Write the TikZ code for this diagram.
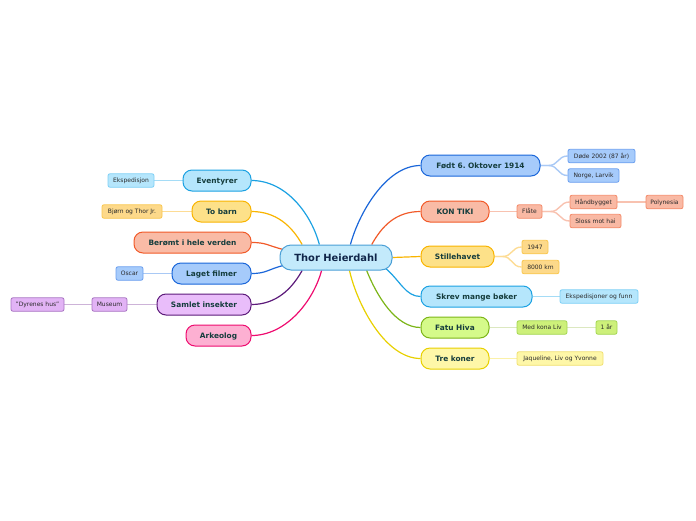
\documentclass[tikz,border=0pt]{standalone}
\usepackage{fontspec}
\setmainfont{DejaVu Sans}
\usetikzlibrary{backgrounds}
\frenchspacing
\definecolor{maintext}{HTML}{153D3D}
\definecolor{ctext}{HTML}{10264A}
\definecolor{subtext}{HTML}{2A2A2A}
% central
\definecolor{cF}{HTML}{C3EAFB}\definecolor{cD}{HTML}{4A9FD6}
% cyan
\definecolor{cyF}{HTML}{B5E6FC}\definecolor{cyD}{HTML}{1BA1E2}\definecolor{cyS}{HTML}{A5DCF6}\definecolor{cySD}{HTML}{7FD0F5}
% yellow-orange
\definecolor{yeF}{HTML}{FDE189}\definecolor{yeD}{HTML}{F9B400}\definecolor{yeS}{HTML}{FDDC95}\definecolor{yeSF}{HTML}{FDD98A}\definecolor{yeSD}{HTML}{F9C74F}
% red
\definecolor{reF}{HTML}{F9BBA6}\definecolor{reD}{HTML}{F15A29}\definecolor{reS}{HTML}{F8C2B0}\definecolor{reSF}{HTML}{F9B9A4}\definecolor{reSD}{HTML}{F48B6A}
% blue
\definecolor{blF}{HTML}{A6CBFB}\definecolor{blD}{HTML}{1A66D9}\definecolor{blS}{HTML}{A9C9F5}\definecolor{blSD}{HTML}{6B9FEF}
% purple
\definecolor{puF}{HTML}{E9BDFA}\definecolor{puD}{HTML}{5C1A7A}\definecolor{puS}{HTML}{CDB3D8}\definecolor{puSF}{HTML}{E2B3F5}\definecolor{puSD}{HTML}{A874C2}
% pink
\definecolor{piF}{HTML}{FDB0D2}\definecolor{piD}{HTML}{EE0B6F}
% green
\definecolor{grF}{HTML}{D5FA8A}\definecolor{grD}{HTML}{7CB518}\definecolor{grS}{HTML}{DCE8C0}\definecolor{grSF}{HTML}{CDF07A}\definecolor{grSD}{HTML}{A4D653}
% light yellow
\definecolor{lyF}{HTML}{FEF7A8}\definecolor{lyD}{HTML}{E8D000}\definecolor{lyS}{HTML}{FBF1A8}\definecolor{lySD}{HTML}{F0E070}
\begin{document}
\begin{tikzpicture}[x=1pt,y=-1pt,
  mainnode/.style={rounded corners=9pt, line width=1pt, minimum height=21pt, inner sep=0pt,
    text height=5.4pt, text depth=0pt,
    font=\bfseries\fontsize{7.4}{9}\selectfont, text=maintext},
  centernode/.style={rounded corners=11pt, line width=1pt, minimum height=25pt, minimum width=112pt,
    inner sep=0pt, text height=7.2pt, text depth=0pt,
    font=\bfseries\fontsize{9.9}{12}\selectfont, text=ctext, fill=cF, draw=cD},
  subnode/.style={rounded corners=2pt, line width=0.8pt, minimum height=13.5pt, inner sep=0pt,
    text height=4.4pt, text depth=0pt,
    font=\fontsize{6}{7}\selectfont, text=subtext},
  conn/.style={line width=1.2pt},
  subconn/.style={line width=1.4pt},
  cyM/.style={fill=cyF, draw=cyD}, cyN/.style={fill=cyF, draw=cySD},
  yeM/.style={fill=yeF, draw=yeD}, yeN/.style={fill=yeSF, draw=yeSD},
  reM/.style={fill=reF, draw=reD}, reN/.style={fill=reSF, draw=reSD},
  blM/.style={fill=blF, draw=blD}, blN/.style={fill=blF, draw=blSD},
  puM/.style={fill=puF, draw=puD}, puN/.style={fill=puSF, draw=puSD},
  piM/.style={fill=piF, draw=piD},
  grM/.style={fill=grF, draw=grD}, grN/.style={fill=grSF, draw=grSD},
  lyM/.style={fill=lyF, draw=lyD}, lyN/.style={fill=lyF, draw=lySD}
]
\useasboundingbox (0,0) rectangle (696,520);

% central
\node[centernode] (c) at (336,257.5) {Thor Heierdahl};

% left main nodes
\node[mainnode, cyM, minimum width=68pt] (ev) at (217,180.5) {Eventyrer};
\node[mainnode, yeM, minimum width=59pt] (tb) at (221.5,211.5) {To barn};
\node[mainnode, reM, minimum width=117pt] (be) at (192.5,242.5) {Berømt i hele verden};
\node[mainnode, blM, minimum width=79pt] (lf) at (211.5,273.5) {Laget filmer};
\node[mainnode, puM, minimum width=94pt] (si) at (204,304.5) {Samlet insekter};
\node[mainnode, piM, minimum width=65pt] (ar) at (218.5,335.5) {Arkeolog};

% right main nodes
\node[mainnode, blM, minimum width=119pt] (fo) at (480.5,165.5) {Født 6. Oktover 1914};
\node[mainnode, reM, minimum width=68pt] (kt) at (455,211.5) {KON TIKI};
\node[mainnode, yeM, minimum width=73pt] (st) at (457.5,256.5) {Stillehavet};
\node[mainnode, cyM, minimum width=111pt] (sk) at (476.5,296.5) {Skrev mange bøker};
\node[mainnode, grM, minimum width=68pt] (fh) at (455,327.5) {Fatu Hiva};
\node[mainnode, lyM, minimum width=68pt] (tk) at (455,358.5) {Tre koner};

% left sub nodes
\node[subnode, cyN, minimum width=46pt] (eks) at (131,180.5) {Ekspedisjon};
\node[subnode, yeN, minimum width=60pt] (bj) at (132,211.5) {Bjørn og Thor Jr.};
\node[subnode, blN, minimum width=27pt] (os) at (129.5,273.5) {Oscar};
\node[subnode, puN, minimum width=35pt] (mu) at (109.5,304.5) {Museum};
\node[subnode, puN, minimum width=53pt] (dh) at (37.5,304.5) {"Dyrenes hus"};

% right sub nodes
\node[subnode, blN, minimum width=67pt] (dd) at (601.5,156) {Døde 2002 (87 år)};
\node[subnode, blN, minimum width=51pt] (nl) at (593.5,175.5) {Norge, Larvik};
\node[subnode, reN, minimum width=25pt] (fl) at (529.5,211.5) {Flåte};
\node[subnode, reN, minimum width=47pt] (hb) at (593.5,202) {Håndbygget};
\node[subnode, reN, minimum width=51pt] (sh) at (595.5,221) {Sloss mot hai};
\node[subnode, reN, minimum width=37pt] (po) at (664.5,202) {Polynesia};
\node[subnode, yeN, minimum width=26pt] (y47) at (535,247) {1947};
\node[subnode, yeN, minimum width=37pt] (km) at (540.5,267) {8000 km};
\node[subnode, cyN, minimum width=78pt] (ef) at (599,296.5) {Ekspedisjoner og funn};
\node[subnode, grN, minimum width=50pt] (mk) at (542,327.5) {Med kona Liv};
\node[subnode, grN, minimum width=21pt] (ea) at (606.5,327.5) {1 år};
\node[subnode, lyN, minimum width=86pt] (jl) at (560,358.5) {Jaqueline, Liv og Yvonne};

\begin{scope}[on background layer]
% central connectors, left
\draw[conn, cyD] (ev.east) .. controls +(35,0) and +(-8,-30) .. (c.142);
\draw[conn, yeD] (tb.east) .. controls +(25,0) and +(-10,-18) .. (c.159);
\draw[conn, reD, shorten >=-4pt] (be.east) .. controls +(15,0) and +(-12,-3) .. (c.171);
\draw[conn, blD, shorten >=-4pt] (lf.east) .. controls +(15,0) and +(-12,3) .. (c.189);
\draw[conn, puD] (si.east) .. controls +(25,0) and +(-10,18) .. (c.201);
\draw[conn, piD] (ar.east) .. controls +(35,0) and +(-8,30) .. (c.222);
% central connectors, right
\draw[conn, blD] (c.42) .. controls +(8,-30) and +(-35,0) .. (fo.west);
\draw[conn, reD] (c.20) .. controls +(10,-18) and +(-25,0) .. (kt.west);
\draw[conn, yeD] (c.east) -- (st.west);
\draw[conn, cyD, shorten <=-4pt] (c.346) .. controls +(12,10) and +(-15,0) .. (sk.west);
\draw[conn, grD] (c.337) .. controls +(10,25) and +(-25,0) .. (fh.west);
\draw[conn, lyD] (c.316) .. controls +(8,35) and +(-35,0) .. (tk.west);

% sub connectors
\draw[subconn, cyS] (ev.west) -- (eks.east);
\draw[subconn, yeS] (tb.west) -- (bj.east);
\draw[subconn, blS] (lf.west) -- (os.east);
\draw[subconn, puS] (si.west) -- (mu.east);
\draw[subconn, puS] (mu.west) -- (dh.east);
\draw[subconn, blS] (fo.east) -- ++(8,0) .. controls +(10,0) and +(-10,0) .. (dd.west);
\draw[subconn, blS] (fo.east) -- ++(8,0) .. controls +(10,0) and +(-10,0) .. (nl.west);
\draw[subconn, reS] (kt.east) -- (fl.west);
\draw[subconn, reS] (fl.east) -- ++(8,0) .. controls +(10,0) and +(-10,0) .. (hb.west);
\draw[subconn, reS] (fl.east) -- ++(8,0) .. controls +(10,0) and +(-10,0) .. (sh.west);
\draw[subconn, reS] (hb.east) -- (po.west);
\draw[subconn, yeS] (st.east) -- ++(8,0) .. controls +(10,0) and +(-10,0) .. (y47.west);
\draw[subconn, yeS] (st.east) -- ++(8,0) .. controls +(10,0) and +(-10,0) .. (km.west);
\draw[subconn, cyS] (sk.east) -- (ef.west);
\draw[subconn, grS] (fh.east) -- (mk.west);
\draw[subconn, grS] (mk.east) -- (ea.west);
\draw[subconn, lyS] (tk.east) -- (jl.west);
\end{scope}
\end{tikzpicture}
\end{document}
